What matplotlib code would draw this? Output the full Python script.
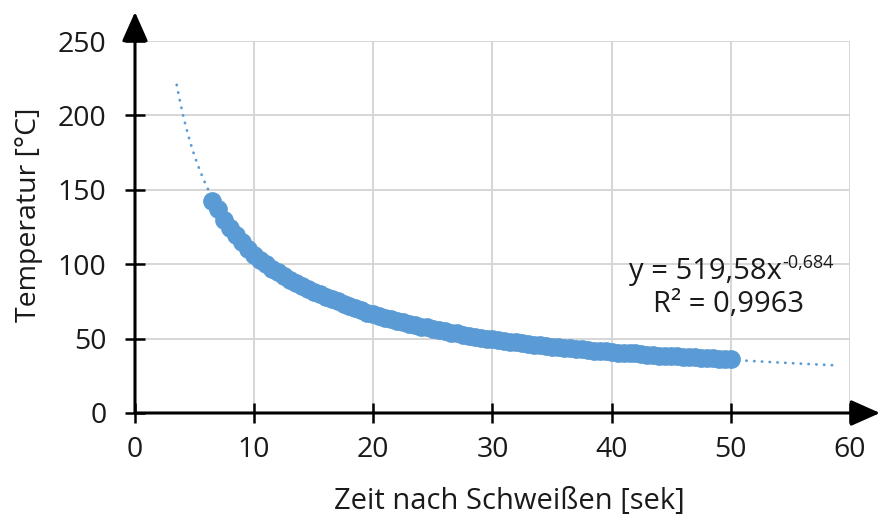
import numpy as np
import matplotlib.pyplot as plt

plt.rcParams['font.family'] = ['Open Sans', 'DejaVu Sans']

# Messwerte: Zeit nach dem Schweißen [s] und Temperatur [°C]
zeit = [6.5, 7.0, 7.5, 8.0, 8.5, 9.0, 9.5, 10.0, 10.5, 11.0, 11.5, 12.0,
        12.5, 13.0, 13.5, 14.0, 14.5, 15.0, 15.5, 16.0, 16.5, 17.0, 17.5,
        18.0, 18.5, 19.0, 19.5, 20.0, 20.5, 21.0, 21.5, 22.0, 22.5, 23.0,
        23.5, 24.0, 24.5, 25.0, 25.5, 26.0, 26.5, 27.0, 27.5, 28.0, 28.5,
        29.0, 29.5, 30.0, 30.5, 31.0, 31.5, 32.0, 32.5, 33.0, 33.5, 34.0,
        34.5, 35.0, 35.5, 36.0, 36.5, 37.0, 37.5, 38.0, 38.5, 39.0, 39.5,
        40.0, 40.5, 41.0, 41.5, 42.0, 42.5, 43.0, 43.5, 44.0, 44.5, 45.0,
        45.5, 46.0, 46.5, 47.0, 47.5, 48.0, 48.5, 49.0, 49.5, 50.0]
temperatur = [142.5, 137, 130, 124.5, 119.5, 115, 110.5, 106.5, 103, 100,
              97, 94.5, 92, 89.5, 87.5, 85.5, 83.5, 81.5, 80, 78, 76.5, 75,
              73.5, 72, 70.5, 69, 67.5, 66.5, 65, 64, 63, 62, 61, 60, 59,
              58, 57.5, 56.5, 55.5, 55, 54, 53.5, 52.5, 52, 51, 50.5, 50,
              49.5, 49, 48.5, 48, 47.5, 47, 46.5, 46, 45.5, 45, 44.5, 44.5,
              44, 43.5, 43, 43, 42.5, 42, 41.5, 41.5, 41, 40.5, 40.5, 40, 40,
              39.5, 39, 39, 38.5, 38.5, 38, 38, 37.5, 37.5, 37.5, 37, 37, 37,
              36.5, 36.5, 36.5]

# Potenz-Trendlinie y = a * x^b
a = 519.58
b = -0.684
r2 = 0.9963
trend_von, trend_bis = 3.5, 59.0

blau = '#5B9BD5'
schrift = '#1a1a1a'

fig = plt.figure(figsize=(8.8, 5.21), dpi=100)
ax = fig.add_axes([0.1534, 0.2073, 0.8125, 0.714])

xt = np.linspace(trend_von, trend_bis, 400)
ax.plot(xt, a * xt ** b, color=blau, lw=2.0, ls=(0, (0.1, 2.7)),
        dash_capstyle='round', zorder=3)
ax.plot(zeit, temperatur, 'o', color=blau, ms=13.5, mec='none', zorder=4)

ax.set_xlim(0, 60)
ax.set_ylim(0, 250)
ax.set_xticks(range(0, 61, 10))
ax.set_yticks(range(0, 251, 50))
ax.grid(True, color='#D6D6D6', lw=1.4)
ax.set_axisbelow(True)
for s in ax.spines.values():
    s.set_visible(False)
ax.tick_params(direction='inout', length=15, width=1.8, color='black',
               labelsize=20.5, labelcolor=schrift)
ax.tick_params(axis='x', pad=9)
ax.tick_params(axis='y', pad=13)

# Achsen mit Pfeilspitzen
pfeil = dict(arrowstyle='-|>,head_length=0.9,head_width=0.4',
             mutation_scale=20, lw=2.2, color='black',
             shrinkA=0, shrinkB=0)
ax.annotate('', xy=(0, 1.078), xytext=(0, 0), xycoords='axes fraction',
            arrowprops=pfeil, annotation_clip=False)
ax.annotate('', xy=(1.042, 0), xytext=(0, 0), xycoords='axes fraction',
            arrowprops=pfeil, annotation_clip=False)

ax.set_xlabel('Zeit nach Schweißen [sek]', fontsize=21, color=schrift)
ax.set_ylabel('Temperatur [°C]', fontsize=20.5, color=schrift)
ax.xaxis.set_label_coords(0.524, -0.2)
ax.yaxis.set_label_coords(-0.128, 0.532)

# Gleichung und Bestimmtheitsmaß
ax.text(54.3, 90, 'y = ' + f'{a:.2f}'.replace('.', ',') + 'x',
        ha='right', va='baseline', fontsize=21, color=schrift)
ax.text(54.3, 97.5, f'{b:.3f}'.replace('.', ','), ha='left',
        va='baseline', fontsize=13, color=schrift)
ax.text(49.8, 68, 'R² = ' + f'{r2:.4f}'.replace('.', ','), ha='center',
        va='baseline', fontsize=21, color=schrift)

fig.savefig('out.png', dpi=100)
